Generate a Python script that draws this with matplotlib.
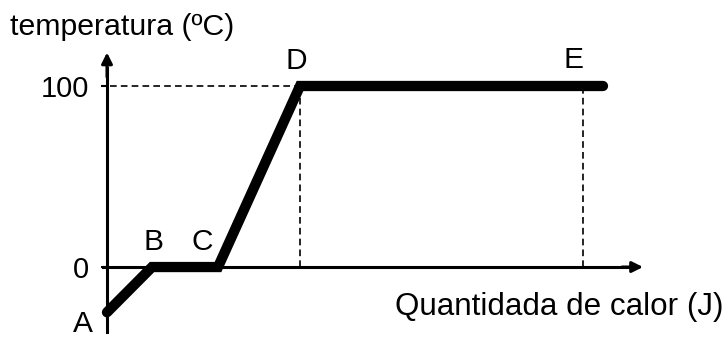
import matplotlib.pyplot as plt

plt.rcParams['font.family'] = ['Liberation Sans', 'DejaVu Sans']

# Dados (calor em unidades arbitrárias)
calor = [0, 45, 111, 193, 476, 496]
temperatura = [-25, 0, 0, 100, 100, 100]
rotulos = ['A', 'B', 'C', 'D', 'E']
# deslocamento dos rótulos (pixels)
desloc_x = [-24, 1, -16, -4, -10]
desloc_y = [-20, 17, 17, 17, 18]
ticks_y = [0, 100]
ticks_y_txt = ['0', '100']

fig = plt.figure(figsize=(7.23, 3.38), dpi=100)
ax = fig.add_axes([0, 0, 1, 1])
ax.set_xlim(-107, 616)
ax.set_ylim(-39.2, 147.5)
ax.patch.set_alpha(0)

# Eixos
for s in ['top', 'right']:
    ax.spines[s].set_visible(False)
ax.spines['left'].set_position(('data', 0))
ax.spines['bottom'].set_position(('data', 0))
ax.spines['left'].set_bounds(-36, 110)
ax.spines['bottom'].set_bounds(-4, 525)
ax.spines['left'].set_linewidth(2.2)
ax.spines['bottom'].set_linewidth(2.2)
ax.annotate('', xy=(0, 118.5), xytext=(0, 105),
            arrowprops=dict(arrowstyle='-|>', lw=2.2, color='black', mutation_scale=16, shrinkA=0, shrinkB=0))
ax.annotate('', xy=(536, 0), xytext=(515, 0),
            arrowprops=dict(arrowstyle='-|>', lw=2.2, color='black', mutation_scale=16, shrinkA=0, shrinkB=0))

ax.set_xticks([])
ax.set_yticks(ticks_y)
ax.set_yticklabels(ticks_y_txt, fontsize=21)
ax.tick_params(axis='y', length=4, width=1.5, pad=9)

# Linhas tracejadas
ax.plot([3, calor[3]], [100, 100], color='black', lw=1.2, dashes=(4, 2.5))
ax.plot([calor[3], calor[3]], [0, 100], color='black', lw=1.2, dashes=(4, 2.5))
ax.plot([calor[4], calor[4]], [0, 100], color='black', lw=1.2, dashes=(4, 2.5))

# Curva de aquecimento
ax.plot(calor, temperatura, color='black', lw=7.4,
        solid_capstyle='round', solid_joinstyle='miter')

for i, r in enumerate(rotulos):
    ax.annotate(r, xy=(calor[i], temperatura[i]), xytext=(desloc_x[i], desloc_y[i]),
                textcoords='offset pixels', ha='center', va='baseline', fontsize=21.5)

fig.text(10 / 723, 1 - 35 / 338, 'temperatura (ºC)', fontsize=21.8, va='baseline', ha='left')
fig.text(395 / 723, 1 - 315 / 338, 'Quantidada de calor (J)', fontsize=22.6, va='baseline', ha='left')

plt.savefig('out.png', dpi=100)
